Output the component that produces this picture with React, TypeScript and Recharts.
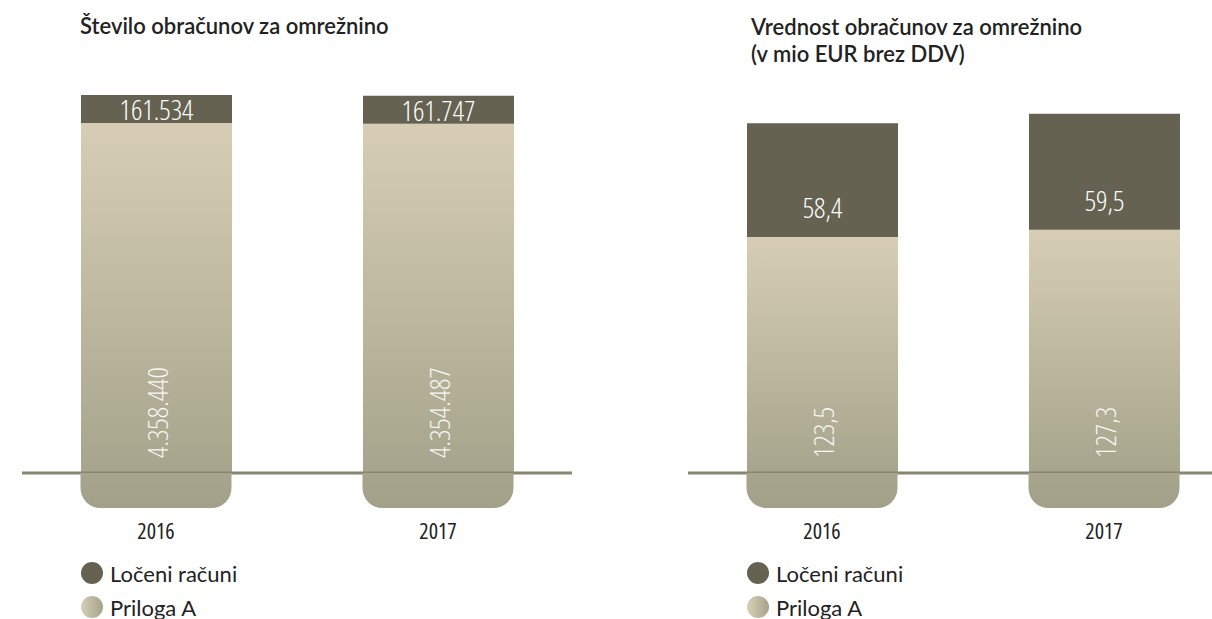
import React from 'react';
import { BarChart, Bar, XAxis, YAxis, ReferenceLine, LabelList, Legend } from 'recharts';

// ---------- data ----------
const years = ['2016', '2017'];
const seriesNames = ['Ločeni računi', 'Priloga A'];
const countSeparate = [161534, 161747];
const countAnnex = [4358440, 4354487];
const valueSeparate = [58.4, 59.5];
const valueAnnex = [123.5, 127.3];
const titleCount = ['Število obračunov za omrežnino'];
const titleValue = ['Vrednost obračunov za omrežnino', '(v mio EUR brez DDV)'];

// ---------- style ----------
const NUM_FONT = '"Open Sans", "Liberation Sans Narrow", "DejaVu Sans Condensed", sans-serif';
const TXT_FONT = 'Lato, "Noto Sans", sans-serif';
const DARK = '#656251';
const LINE = '#8a856e';
const TEXT = '#222222';
const FOOT = 35;
const RADIUS = 20;
const BAR_W = 151;
const PLOT_TOP = 85;
const BASE_Y = 473;
const H = 619;
const AXIS_H = 60;

const fmtInt = (n: number) => String(n).replace(/\B(?=(\d{3})+(?!\d))/g, '.');
const fmtDec = (n: number) => n.toFixed(1).replace('.', ',');

const countData = years.map((year, i) => ({ year, separate: countSeparate[i], annex: countAnnex[i] }));
const valueData = years.map((year, i) => ({ year, separate: valueSeparate[i], annex: valueAnnex[i] }));

const numStyle: React.CSSProperties = { fontStretch: '81%', fontWeight: 300 };

const makeTopLabel = (frac: number, fmt: (n: number) => string) => (p: any) => {
  const { x, y, width, height, value } = p;
  if (x == null) return null;
  return (
    <text
      x={x + width / 2}
      y={y + height * frac}
      textAnchor="middle"
      dominantBaseline="central"
      fill="#ffffff"
      fontFamily={NUM_FONT}
      fontSize={28}
      style={numStyle}
    >
      {fmt(Number(value))}
    </text>
  );
};

const makeSideLabel = (fmt: (n: number) => string) => (p: any) => {
  const { x, y, width, height, value } = p;
  if (x == null) return null;
  const cx = x + width / 2;
  const cy = y + height - 15;
  return (
    <text
      x={cx}
      y={cy}
      transform={`rotate(-90 ${cx} ${cy})`}
      textAnchor="start"
      dominantBaseline="central"
      fill="#ffffff"
      fillOpacity={0.92}
      fontFamily={NUM_FONT}
      fontSize={28}
      style={numStyle}
    >
      {fmt(Number(value))}
    </text>
  );
};

// category tick: rounded "foot" of the bar below the base line + year label
const makeYearTick = (gradId: string) => (p: any) => {
  const { x, payload } = p;
  const l = x - BAR_W / 2;
  const t = BASE_Y;
  const b = BASE_Y + FOOT;
  const r = RADIUS;
  const d = `M${l},${t}H${l + BAR_W}V${b - r}A${r},${r} 0 0 1 ${l + BAR_W - r},${b}H${l + r}A${r},${r} 0 0 1 ${l},${b - r}Z`;
  return (
    <g>
      <path d={d} fill={`url(#${gradId}Foot)`} />
      <text
        x={x}
        y={BASE_Y + 57}
        textAnchor="middle"
        dominantBaseline="central"
        fill={TEXT}
        fontFamily={NUM_FONT}
        fontSize={22}
        style={{ fontStretch: '80%', fontWeight: 400 }}
      >
        {payload.value}
      </text>
    </g>
  );
};

const makeLegend = () => () => (
  <div style={{ fontFamily: TXT_FONT, fontSize: 22, color: TEXT }}>
    {seriesNames.map((name, i) => (
      <div key={name} style={{ display: 'flex', alignItems: 'center', height: 34, whiteSpace: 'nowrap' }}>
        <span
          style={{
            display: 'inline-block',
            width: 22,
            height: 22,
            borderRadius: '50%',
            marginRight: 7,
            background: i === 0 ? DARK : 'linear-gradient(to right, #d8cfb8, #a5a28a)',
          }}
        />
        <span>{name}</span>
      </div>
    ))}
  </div>
);

interface ChartProps {
  data: any[];
  domain: [number, number];
  left: number;
  width: number;
  marginLeft: number;
  marginRight: number;
  labelFrac: number;
  fmtTop: (n: number) => string;
  fmtSide: (n: number) => string;
  gradId: string;
  legendLeft: number;
}

function StackChart(props: ChartProps) {
  const { data, domain, left, width, marginLeft, marginRight, labelFrac, fmtTop, fmtSide, gradId, legendLeft } = props;
  return (
    <div style={{ position: 'absolute', left, top: 0 }}>
      <BarChart
        width={width}
        height={H}
        data={data}
        margin={{ top: PLOT_TOP, bottom: H - BASE_Y - AXIS_H, left: marginLeft, right: marginRight }}
      >
        <defs>
          <linearGradient id={gradId} x1="0" y1="0" x2="0" y2="1">
            <stop offset="0%" stopColor="#d7cdb6" />
            <stop offset="100%" stopColor="#a7a58d" />
          </linearGradient>
          <linearGradient id={`${gradId}Foot`} x1="0" y1="0" x2="0" y2="1">
            <stop offset="0%" stopColor="#a7a58d" />
            <stop offset="100%" stopColor="#a2a088" />
          </linearGradient>
        </defs>
        <XAxis
          dataKey="year"
          axisLine={false}
          tickLine={false}
          height={AXIS_H}
          padding={{ left: -7, right: -7 }}
          tick={makeYearTick(gradId)}
          interval={0}
        />
        <YAxis hide type="number" domain={domain} allowDataOverflow />
        <Bar dataKey="annex" name={seriesNames[1]} stackId="s" barSize={BAR_W} fill={`url(#${gradId})`} isAnimationActive={false}>
          <LabelList dataKey="annex" content={makeSideLabel(fmtSide)} />
        </Bar>
        <Bar dataKey="separate" name={seriesNames[0]} stackId="s" barSize={BAR_W} fill={DARK} isAnimationActive={false}>
          <LabelList dataKey="separate" content={makeTopLabel(labelFrac, fmtTop)} />
        </Bar>
        <ReferenceLine y={domain[0]} stroke={LINE} strokeWidth={3} ifOverflow="visible" />
        <Legend
          layout="vertical"
          align="center"
          verticalAlign="middle"
          content={makeLegend()}
          wrapperStyle={{ left: legendLeft, top: 556, width: 300 }}
        />
      </BarChart>
    </div>
  );
}

const titleStyle: React.CSSProperties = {
  position: 'absolute',
  fontFamily: TXT_FONT,
  fontSize: 22,
  lineHeight: '27px',
  fontWeight: 600,
  color: TEXT,
  whiteSpace: 'nowrap',
};

export default function App() {
  return (
    <div style={{ position: 'absolute', left: 0, top: 0, width: 1212, height: H, overflow: 'hidden', background: '#ffffff' }}>
      <div style={{ ...titleStyle, left: 80, top: 12 }}>
        {titleCount.map((t) => (
          <div key={t}>{t}</div>
        ))}
      </div>
      <div style={{ ...titleStyle, left: 751, top: 13 }}>
        {titleValue.map((t) => (
          <div key={t}>{t}</div>
        ))}
      </div>
      <StackChart
        data={countData}
        domain={[2340000, 4578000]}
        left={0}
        width={600}
        marginLeft={22}
        marginRight={28}
        labelFrac={0.5}
        fmtTop={fmtInt}
        fmtSide={fmtInt}
        gradId="gradCount"
        legendLeft={81}
      />
      <StackChart
        data={valueData}
        domain={[2.5, 201.5]}
        left={606}
        width={660}
        marginLeft={82}
        marginRight={28}
        labelFrac={0.74}
        fmtTop={fmtDec}
        fmtSide={fmtDec}
        gradId="gradValue"
        legendLeft={141}
      />
    </div>
  );
}
